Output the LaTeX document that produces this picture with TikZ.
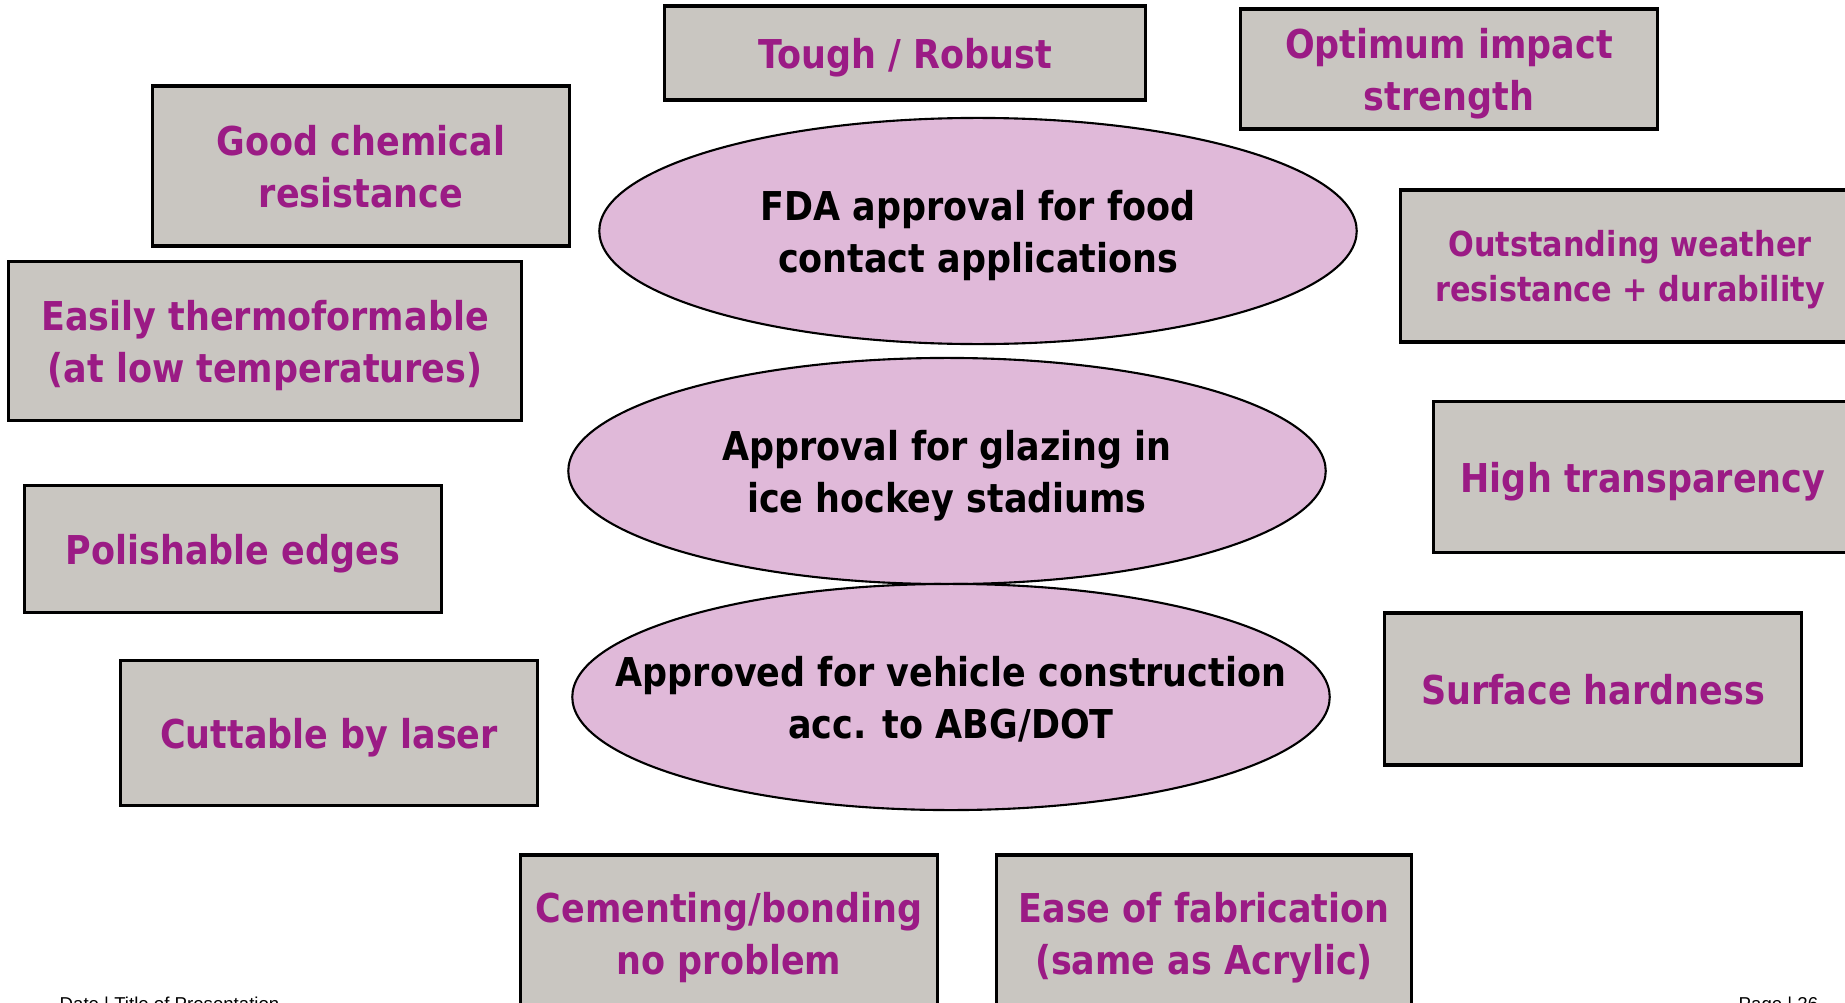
\documentclass[tikz,border=0pt]{standalone}
\usepackage{fontspec}
\setmainfont{DejaVu Sans}[FakeStretch=0.88]
\setsansfont{Liberation Sans}
\usepackage{tikz}
\usetikzlibrary{positioning}
\usetikzlibrary{shapes.geometric}

\definecolor{plum}{HTML}{9B1B85}
\definecolor{stone}{HTML}{C9C6C1}
\definecolor{orchid}{HTML}{E0B9D9}

\tikzset{
  prop/.style={draw=black, line width=0.9pt, fill=stone, text=plum, align=center,
    font=\fontsize{11.3}{14.8}\selectfont\bfseries, inner sep=0pt, text depth=0pt},
  approval/.style={ellipse, draw=black, line width=0.6pt, fill=orchid, inner sep=0pt,
    minimum width=7.57cm, minimum height=2.26cm},
  approvaltext/.style={align=center, font=\fontsize{11.3}{14.8}\selectfont\bfseries,
    inner sep=0pt, text depth=0pt},
  footer/.style={font=\sffamily\fontsize{5.3}{6}\selectfont, anchor=base west, inner sep=0pt}
}

\begin{document}
\begin{tikzpicture}[x=0.01cm, y=-0.01cm]
\useasboundingbox (0,0) rectangle (1845,1003);
\clip (0,0) rectangle (1845,1003);

\node[approval] (fda) at (978,231) {};
\node[approval] (glazing) at (947,471) {};
\node[approval] (vehicle) at (951,697) {};
\node[approvaltext] (fda text) at (fda) {FDA approval for food\\ contact applications};
\node[approvaltext] (glazing text) at (glazing) {Approval for glazing in\\ ice hockey stadiums};
\node[approvaltext] (vehicle text) at (vehicle) {Approved for vehicle construction\\ acc. to ABG/DOT};

\node[prop, minimum width=4.80cm, minimum height=0.94cm] (tough) at (905,53) {Tough / Robust};
\node[prop, minimum width=4.16cm, minimum height=1.20cm] (impact) at (1449,69) {Optimum impact\\ strength};
\node[prop, minimum width=4.17cm, minimum height=1.60cm] (chemical) at (361,166) {Good chemical\\ resistance};
\node[prop, minimum width=5.12cm, minimum height=1.59cm] (thermo) at (265,341) {Easily thermoformable\\ (at low temperatures)};
\node[prop, minimum width=4.58cm, minimum height=1.52cm,
  font=\fontsize{9.8}{12.7}\selectfont\bfseries] (weather) at (1630,266) {Outstanding weather\\ resistance + durability};
\node[prop, minimum width=4.18cm, minimum height=1.51cm] (transparency) at (1643,477) {High transparency};
\node[prop, minimum width=4.16cm, minimum height=1.27cm] (polish) at (233,549) {Polishable edges};
\node[prop, minimum width=4.16cm, minimum height=1.52cm] (hardness) at (1593,689) {Surface hardness};
\node[prop, minimum width=4.17cm, minimum height=1.45cm] (laser) at (329,733) {Cuttable by laser};
\node[prop, minimum width=4.16cm, minimum height=1.56cm] (bonding) at (729,933) {Cementing/bonding\\ no problem};
\node[prop, minimum width=4.15cm, minimum height=1.56cm] (fabrication) at (1204,933) {Ease of fabrication\\ (same as Acrylic)};

\node[footer] (date) at (59,1010) {Date | Title of Presentation};
\node[footer] (page) at (1738,1010) {Page | 26};
\end{tikzpicture}
\end{document}
